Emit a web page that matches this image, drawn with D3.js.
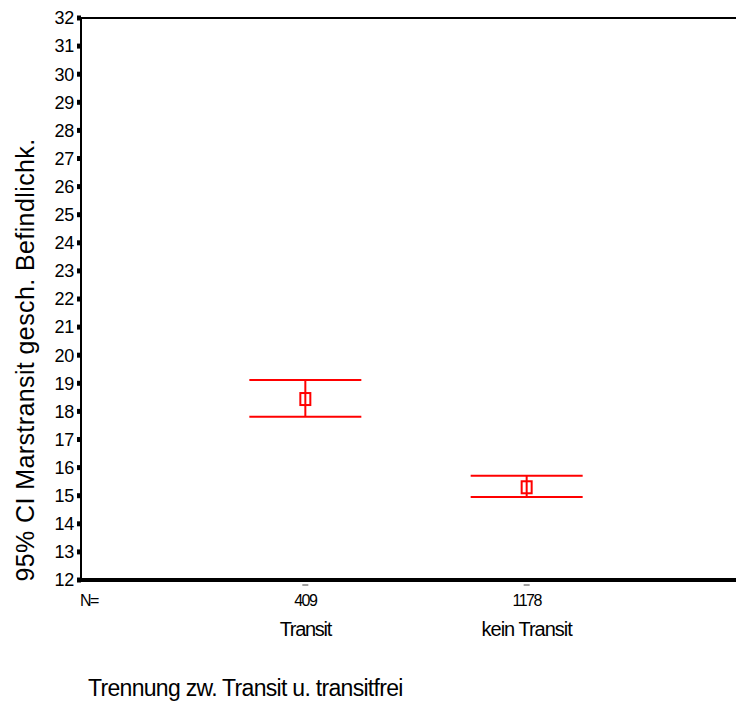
<!DOCTYPE html>
<html><head><meta charset="utf-8">
<script src="https://cdn.jsdelivr.net/npm/d3@7"></script>
<style>body{margin:0;background:#fff}svg{display:block}text{font-family:"Liberation Sans",Arial,sans-serif}</style>
</head><body><svg id="c" width="736" height="704"></svg>
<script>
const categories = ["Transit", "kein Transit"];
const nValues = ["409", "1178"];
const means = [18.44, 15.30];
const lowers = [17.81, 14.95];
const uppers = [19.12, 15.71];
const yTicks = [12,13,14,15,16,17,18,19,20,21,22,23,24,25,26,27,28,29,30,31,32];
const yTitle = "95% CI Marstransit gesch. Befindlichk.";
const xTitle = "Trennung zw. Transit u. transitfrei";

const svg = d3.select("#c");
const x = d3.scaleLinear().domain([0, 3]).range([84, 748]);
const y = d3.scaleLinear().domain([12, 32]).range([580, 18]);

// top line
svg.append("line").attr("x1", 81).attr("x2", 736).attr("y1", y(32)).attr("y2", y(32))
  .attr("stroke", "#000").attr("stroke-width", 2);
// y axis line
svg.append("line").attr("x1", 81).attr("x2", 81).attr("y1", y(32)).attr("y2", y(12))
  .attr("stroke", "#000").attr("stroke-width", 2);
// y ticks
const yt = svg.append("g");
yTicks.forEach(t => {
  yt.append("rect").attr("x", 77).attr("y", y(t) - 2.5).attr("width", 4).attr("height", 5).attr("fill", "#000");
  yt.append("text").attr("x", 74).attr("y", y(t)).attr("dy", "0.35em").attr("text-anchor", "end")
    .attr("font-size", 18).attr("letter-spacing", -0.3).text(t);
});
// bottom axis
svg.append("line").attr("x1", 80).attr("x2", 736).attr("y1", y(12)).attr("y2", y(12))
  .attr("stroke", "#000").attr("stroke-width", 4);

// x ticks (small dashes)
categories.forEach((c, i) => {
  svg.append("line").attr("x1", x(i + 1) - 3).attr("x2", x(i + 1) + 3).attr("y1", 585).attr("y2", 585)
    .attr("stroke", "#444").attr("stroke-width", 1);
  svg.append("text").attr("x", x(i + 1)).attr("y", 606).attr("text-anchor", "middle")
    .attr("font-size", 16).attr("letter-spacing", -1.5).text(nValues[i]);
  svg.append("text").attr("x", x(i + 1)).attr("y", 636).attr("text-anchor", "middle")
    .attr("font-size", 20).attr("letter-spacing", i === 0 ? -1.3 : -1.0).text(c);
});
svg.append("text").attr("x", 80).attr("y", 606).attr("font-size", 16).attr("letter-spacing", -1.5).text("N=");

// error bars
const g = svg.append("g").attr("stroke", "#ff0000").attr("fill", "none").attr("stroke-width", 2);
categories.forEach((c, i) => {
  const cx = x(i + 1);
  g.append("line").attr("x1", cx - 56).attr("x2", cx + 56).attr("y1", y(uppers[i])).attr("y2", y(uppers[i]));
  g.append("line").attr("x1", cx - 56).attr("x2", cx + 56).attr("y1", y(lowers[i])).attr("y2", y(lowers[i]));
  g.append("line").attr("x1", cx).attr("x2", cx).attr("y1", y(uppers[i])).attr("y2", y(lowers[i]));
  g.append("rect").attr("x", cx - 5).attr("y", y(means[i]) - 6).attr("width", 10).attr("height", 12);
});

// titles
svg.append("text").attr("transform", "translate(34,360) rotate(-90)").attr("text-anchor", "middle")
  .attr("font-size", 25).attr("letter-spacing", 0.4).text(yTitle);
svg.append("text").attr("x", 88).attr("y", 696).attr("font-size", 23).attr("letter-spacing", -0.7).text(xTitle);
</script></body></html>
